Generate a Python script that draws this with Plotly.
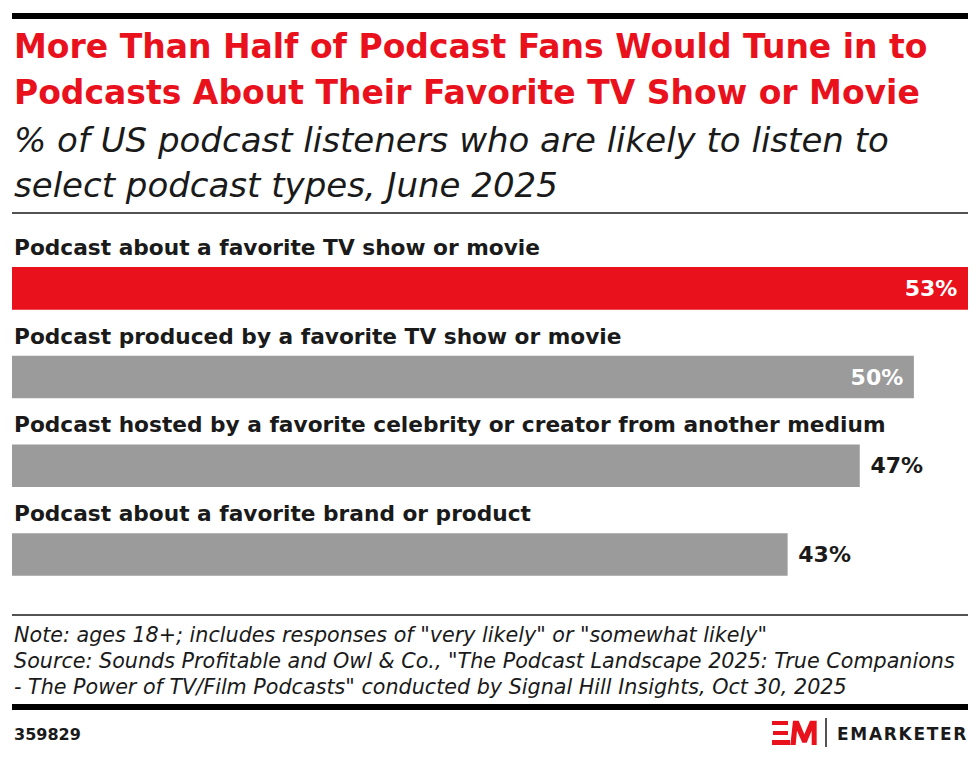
import plotly.graph_objects as go

# data
categories = [
    "Podcast about a favorite TV show or movie",
    "Podcast produced by a favorite TV show or movie",
    "Podcast hosted by a favorite celebrity or creator from another medium",
    "Podcast about a favorite brand or product",
]
values = [53, 50, 47, 43]
bar_colors = ["#e8111c", "#9b9b9b", "#9b9b9b", "#9b9b9b"]
label_pos = ["inside", "inside", "outside", "outside"]
label_colors = ["white", "white", "#1a1a1a", "#1a1a1a"]

title_lines = [
    "More Than Half of Podcast Fans Would Tune in to",
    "Podcasts About Their Favorite TV Show or Movie",
]
subtitle_lines = [
    "% of US podcast listeners who are likely to listen to",
    "select podcast types, June 2025",
]
note_lines = [
    'Note: ages 18+; includes responses of "very likely" or "somewhat likely"',
    'Source: Sounds Profitable and Owl & Co., "The Podcast Landscape 2025: True Companions',
    '- The Power of TV/Film Podcasts" conducted by Signal Hill Insights, Oct 30, 2025',
]
chart_id = "359829"

# the page body adds an 8px margin, so the figure is drawn 8px smaller
OFF = 8
W, H = 980 - OFF, 761 - OFF
L, R = 12 - OFF, 968 - OFF
TOP, BOT = 244 - OFF, 610 - OFF
INK = "#1a1a1a"
RED = "#e8111c"
FONT = "DejaVu Sans"


def px(x):
    # reference pixel -> paper x
    return (x - OFF - L) / (R - L)


def py(y):
    # reference pixel -> paper y
    return (BOT - (y - OFF)) / (BOT - TOP)


fig = go.Figure()
fig.add_trace(go.Bar(
    y=categories,
    x=values,
    orientation="h",
    marker=dict(color=bar_colors, line=dict(width=0)),
    text=[f"{v}% " if p == "inside" else f" {v}%" for v, p in zip(values, label_pos)],
    textposition=label_pos,
    insidetextanchor="end",
    textfont=dict(family=FONT, size=22, color=label_colors, weight=700),
    cliponaxis=False,
    hoverinfo="skip",
))

ann = []
# category labels above bars
for c in categories:
    ann.append(dict(x=0, xref="paper", y=c, yref="y", yshift=41, text=c,
                    xanchor="left", yanchor="middle", showarrow=False,
                    font=dict(family=FONT, size=21.7, color=INK, weight=700)))

for i, t in enumerate(title_lines):
    ann.append(dict(x=0, xref="paper", y=py(47 + 45 * i), yref="paper", text=t,
                    xanchor="left", yanchor="middle", showarrow=False,
                    font=dict(family=FONT, size=33, color=RED, weight=700)))
for i, t in enumerate(subtitle_lines):
    ann.append(dict(x=0, xref="paper", y=py(140 + 45 * i), yref="paper", text=f"<i>{t}</i>",
                    xanchor="left", yanchor="middle", showarrow=False,
                    font=dict(family=FONT, size=34, color=INK, weight=300)))
for i, t in enumerate(note_lines):
    ann.append(dict(x=0, xref="paper", y=py(635 + 26 * i), yref="paper", text=f"<i>{t}</i>",
                    xanchor="left", yanchor="middle", showarrow=False,
                    font=dict(family=FONT, size=20.7, color=INK)))
ann.append(dict(x=0, xref="paper", y=py(734), yref="paper", text=chart_id,
                xanchor="left", yanchor="middle", showarrow=False,
                font=dict(family=FONT, size=16, color=INK, weight=700)))
ann.append(dict(x=1, xref="paper", y=py(734), yref="paper", text="E\u200aM\u200aA\u200aR\u200aK\u200aE\u200aT\u200aE\u200aR",
                xanchor="right", yanchor="middle", showarrow=False,
                font=dict(family=FONT, size=17, color=INK, weight=700)))

shapes = []
# rules
shapes.append(dict(type="rect", xref="paper", yref="paper", x0=0, x1=1, y0=py(19), y1=py(13),
                   fillcolor="black", line=dict(width=0)))
shapes.append(dict(type="line", xref="paper", yref="paper", x0=0, x1=1, y0=py(213), y1=py(213),
                   line=dict(color=INK, width=1.5)))
shapes.append(dict(type="line", xref="paper", yref="paper", x0=0, x1=1, y0=py(615), y1=py(615),
                   line=dict(color=INK, width=1.5)))
shapes.append(dict(type="rect", xref="paper", yref="paper", x0=0, x1=1, y0=py(710), y1=py(704),
                   fillcolor="black", line=dict(width=0)))
# logo: E bars, M polygon, divider
for y0, y1, x0, x1 in [(721, 725, 772, 788), (731, 735, 773, 788), (740, 745, 772, 790)]:
    shapes.append(dict(type="rect", xref="paper", yref="paper", x0=px(x0), x1=px(x1),
                       y0=py(y1), y1=py(y0), fillcolor=RED, line=dict(width=0)))
m_pts = [(91, 135), (99, 62), (116, 62), (133, 103), (150, 62), (170, 62), (170, 135),
         (155, 135), (155, 92), (140, 128), (127, 128), (111, 92), (107, 135)]
path = "M " + " L ".join(f"{px(760 + a / 3):.5f},{py(700 + b / 3):.5f}" for a, b in m_pts) + " Z"
shapes.append(dict(type="path", xref="paper", yref="paper", path=path, fillcolor=RED, line=dict(width=0)))
shapes.append(dict(type="line", xref="paper", yref="paper", x0=px(826), x1=px(826),
                   y0=py(718), y1=py(747), line=dict(color=INK, width=1.5)))

fig.update_layout(
    width=W, height=H,
    margin=dict(l=L, r=W - R, t=TOP, b=H - BOT),
    paper_bgcolor="white", plot_bgcolor="white",
    showlegend=False,
    bargap=0.52,
    xaxis=dict(range=[0, 53], visible=False, fixedrange=True),
    yaxis=dict(autorange="reversed", visible=False, fixedrange=True),
    annotations=ann,
    shapes=shapes,
)

fig.write_html("out.html")
